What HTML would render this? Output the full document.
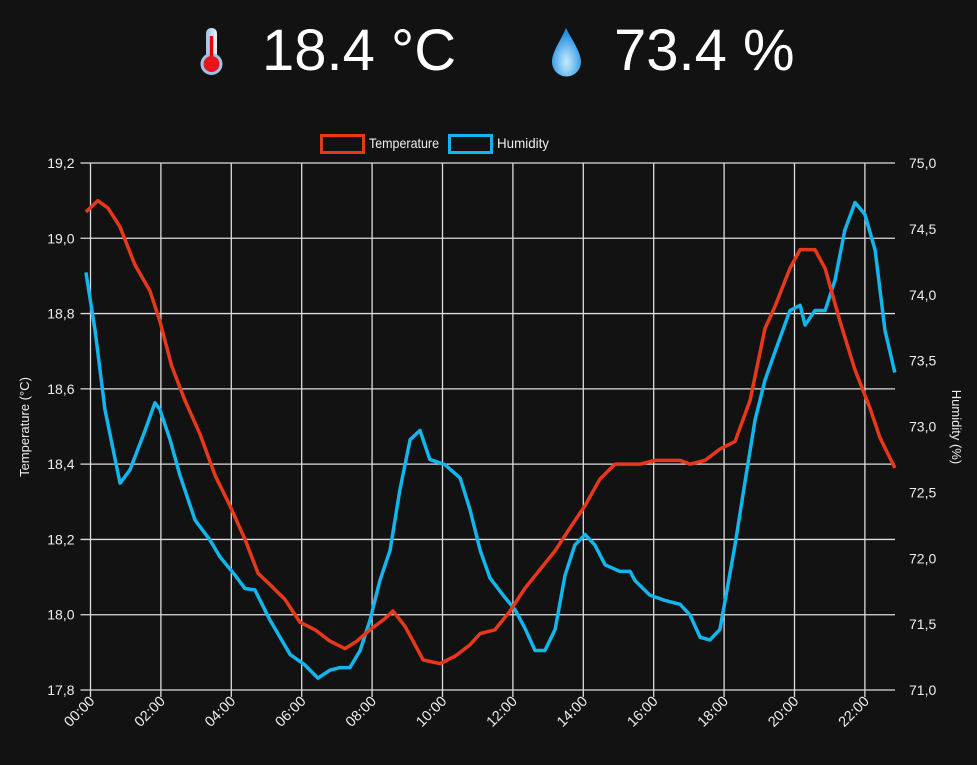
<!DOCTYPE html>
<html><head><meta charset="utf-8"><style>
body{margin:0;background:#121212;width:977px;height:760px;overflow:hidden;font-family:"Liberation Sans",sans-serif}
</style></head><body>
<svg width="977" height="760" viewBox="0 0 977 760">
<rect width="977" height="760" fill="#121212"/>
<defs>
<radialGradient id="dg" cx="0.5" cy="0.7" r="0.6"><stop offset="0" stop-color="#c8ecff"/><stop offset="1" stop-color="#1f8fe0"/></radialGradient>
<linearGradient id="tg" x1="0" x2="1"><stop offset="0" stop-color="#9ac4e8"/><stop offset="1" stop-color="#e6f2fb"/></linearGradient>
</defs>
<g>
<rect x="206" y="28" width="11" height="38" rx="5" fill="url(#tg)"/>
<circle cx="211.5" cy="64" r="11" fill="#9ac4e8"/>
<rect x="209.8" y="36" width="3.4" height="28" fill="#e00"/>
<circle cx="211.5" cy="64" r="8" fill="#e8141a"/>
</g>
<text x="262" y="70" font-size="58" fill="#fff">18.4 °C</text>
<path d="M566,28 C573,42 581,52 581,62 A14.5,14.5 0 0 1 552,62 C552,52 560,42 566,28 Z" fill="url(#dg)"/>
<text x="614" y="70" font-size="58" fill="#fff">73.4 %</text>
<g>
<rect x="321.5" y="135.5" width="42" height="17" fill="none" stroke="#e8381a" stroke-width="3"/>
<text x="369" y="148" font-size="14" fill="#eee" textLength="70" lengthAdjust="spacingAndGlyphs">Temperature</text>
<rect x="449.5" y="135.5" width="42" height="17" fill="none" stroke="#12b5ec" stroke-width="3"/>
<text x="497" y="148" font-size="14" fill="#eee" textLength="52" lengthAdjust="spacingAndGlyphs">Humidity</text>
</g>
<g id="grid"></g>
<g id="axes"></g>
<g id="series"></g>
<text transform="translate(29,427) rotate(-90)" text-anchor="middle" font-size="13" fill="#eee">Temperature (°C)</text>
<text transform="translate(952,427) rotate(90)" text-anchor="middle" font-size="13" fill="#eee">Humidity (%)</text>
</svg>
<script>
const tempTimes=[-0.13,0.21,0.5,0.84,1.26,1.69,1.97,2.31,2.68,3.11,3.54,3.96,4.39,4.76,5.1,5.53,5.95,6.38,6.8,7.23,7.57,7.94,8.37,8.59,8.93,9.22,9.45,9.93,10.36,10.78,11.07,11.49,11.92,12.34,12.77,13.2,13.62,14.05,14.47,14.9,15.61,16.04,16.75,17.03,17.46,17.88,18.31,18.74,19.16,19.45,19.87,20.16,20.58,20.87,21.29,21.72,22.14,22.43,22.85];
const tempValues=[19.07,19.1,19.08,19.03,18.93,18.86,18.78,18.66,18.57,18.48,18.37,18.29,18.2,18.11,18.08,18.04,17.98,17.96,17.93,17.91,17.93,17.96,17.99,18.01,17.97,17.92,17.88,17.87,17.89,17.92,17.95,17.96,18.01,18.07,18.12,18.17,18.23,18.29,18.36,18.4,18.4,18.41,18.41,18.4,18.41,18.44,18.46,18.57,18.76,18.82,18.92,18.97,18.97,18.92,18.78,18.65,18.55,18.47,18.39];
const humTimes=[-0.13,0.13,0.41,0.7,0.84,1.12,1.55,1.83,1.97,2.26,2.54,2.97,3.39,3.68,4.11,4.39,4.67,5.1,5.67,6.09,6.46,6.8,7.09,7.37,7.66,7.94,8.22,8.51,8.79,9.08,9.36,9.64,10.07,10.5,10.78,11.07,11.35,11.78,12.06,12.34,12.63,12.91,13.2,13.48,13.76,14.05,14.33,14.62,15.04,15.33,15.47,15.89,16.32,16.75,17.03,17.32,17.6,17.88,18.03,18.31,18.6,18.88,19.16,19.45,19.87,20.16,20.3,20.58,20.87,21.15,21.43,21.72,22.0,22.29,22.57,22.85];
const humValues=[74.17,73.73,73.13,72.75,72.57,72.67,72.97,73.18,73.13,72.9,72.63,72.29,72.14,72.01,71.87,71.77,71.76,71.53,71.27,71.19,71.09,71.15,71.17,71.17,71.3,71.53,71.83,72.06,72.52,72.9,72.97,72.75,72.71,72.61,72.37,72.06,71.85,71.7,71.61,71.47,71.3,71.3,71.46,71.87,72.1,72.18,72.1,71.95,71.9,71.9,71.83,71.72,71.68,71.65,71.57,71.4,71.38,71.46,71.68,72.1,72.59,73.05,73.35,73.57,73.88,73.92,73.77,73.88,73.88,74.11,74.49,74.7,74.61,74.34,73.73,73.41];
const leftTicks=["17,8","18,0","18,2","18,4","18,6","18,8","19,0","19,2"];
const rightTicks=["71,0","71,5","72,0","72,5","73,0","73,5","74,0","74,5","75,0"];
const xTicks=["00:00","02:00","04:00","06:00","08:00","10:00","12:00","14:00","16:00","18:00","20:00","22:00"];

const L=90.5,R=895,T=163,B=690;
const xs=h=>L+h*35.2;
const yT=v=>B-(v-17.8)/1.4*(B-T);
const yH=v=>B-(v-71)/4*(B-T);
const NS="http://www.w3.org/2000/svg";
function mk(tag,parent,attrs){const e=document.createElementNS(NS,tag);for(const k in attrs)e.setAttribute(k,attrs[k]);parent.appendChild(e);return e;}
const grid=document.getElementById('grid'),axes=document.getElementById('axes'),series=document.getElementById('series');
leftTicks.forEach((t,i)=>{const v=17.8+i*0.2,y=yT(v);
 const g=mk('line',grid,{x1:L-10,x2:R,y1:y,y2:y,stroke:'#ddd','stroke-width':1.3});
 
 
 const tx=mk('text',axes,{x:L-16,y:y+5,'text-anchor':'end','font-size':14,fill:'#eee'});tx.textContent=t;
 
 
});
rightTicks.forEach((t,i)=>{const v=71+i*0.5,y=yH(v);
 const tx=mk('text',axes,{x:909,y:y+5,'font-size':14,fill:'#eee'});tx.textContent=t;
 
 
});
xTicks.forEach((t,i)=>{const x=xs(i*2);
 const g=mk('line',grid,{x1:x,x2:x,y1:T,y2:B+7,stroke:'#ddd','stroke-width':1.3});
 
 
 const tx=mk('text',axes,{transform:`translate(${x+5},${B+12}) rotate(-45)`,'text-anchor':'end','font-size':14.5,fill:'#eee'});tx.textContent=t;
 
 
});
const tp=mk('polyline',series,{points:tempTimes.map((h,i)=>xs(h)+','+yT(tempValues[i])).join(' '),fill:'none',stroke:'#e8381a','stroke-width':3.5,'stroke-linejoin':'round'});


const hp=mk('polyline',series,{points:humTimes.map((h,i)=>xs(h)+','+yH(humValues[i])).join(' '),fill:'none',stroke:'#12b5ec','stroke-width':3.5,'stroke-linejoin':'round'});


series.insertBefore(hp,tp);
</script>
</body></html>
